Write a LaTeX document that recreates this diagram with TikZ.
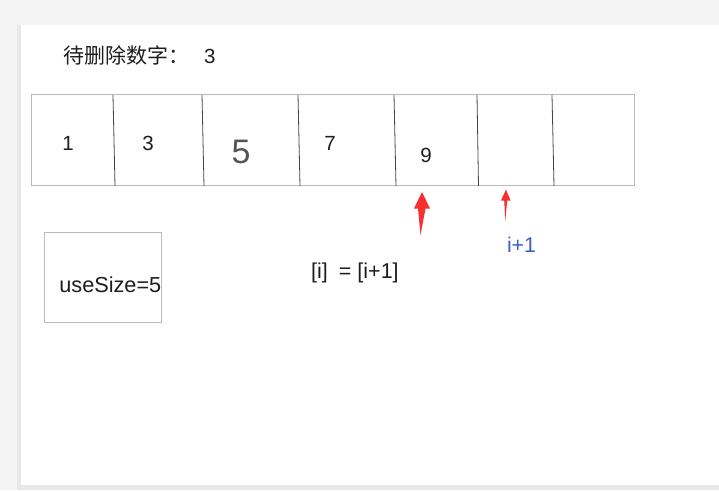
\documentclass[tikz,border=0pt]{standalone}
\usepackage{fontspec}
\setmainfont{Liberation Sans}
\newfontfamily\cjk{Noto Sans CJK SC}
\definecolor{bggray}{HTML}{F4F4F4}
\definecolor{edgegray}{HTML}{E8E8E8}
\definecolor{boxgray}{HTML}{BBBBBB}
\definecolor{divgray}{HTML}{444444}
\definecolor{txt}{HTML}{1E1E1E}
\definecolor{fivegray}{HTML}{555555}
\definecolor{arrred}{HTML}{F5302E}
\definecolor{idxblue}{HTML}{3D5FC4}
\tikzset{
  lbl/.style={inner sep=0pt, text=txt, font=\fontsize{20.5}{24}\selectfont},
  outline/.style={draw=boxgray, line width=1pt},
  divider/.style={draw=divgray, line width=0.8pt},
  redarrow/.style={fill=arrred, draw=none}
}
\begin{document}
\begin{tikzpicture}[x=1pt,y=-1pt]
\useasboundingbox (0,0) rectangle (719,490);
% background
\fill[bggray] (0,0) rectangle (719,490);
\fill[edgegray] (17,25) rectangle (21,490);
\fill[edgegray] (17,485) rectangle (719,490);
\fill[white] (21,25) rectangle (719,485);
% title
\node[lbl, anchor=west] (title) at (63,55) {{\cjk\fontsize{21}{24}\selectfont 待删除数字：}\hspace{15pt}3};
% array
\node[outline, minimum width=603pt, minimum height=91pt, inner sep=0pt, anchor=north west] (arr) at (31,94) {};
\draw[divider] (113,95) -- (115,186);
\draw[divider] (202,95) -- (204,186);
\draw[divider] (298,95) -- (300,186);
\draw[divider] (394,95) -- (396,186);
\draw[divider] (477,95) -- (478.5,186);
\draw[divider] (552,95) -- (554,186);
\node[lbl] (n1) at (68,143) {1};
\node[lbl] (n3) at (148,143.5) {3};
\node[lbl, text=fivegray, font=\fontsize{34}{38}\selectfont] (n5) at (241,152) {5};
\node[lbl] (n7) at (330,143) {7};
\node[lbl] (n9) at (426,155.5) {9};
% red arrows
\fill[redarrow] (422,192) -- (430,208.5) -- (425.5,208.5) -- (420.5,235) -- (418,208.5) -- (414,208.5) -- cycle;
\fill[redarrow] (506,189.5) -- (510.5,200.5) -- (507.2,200.5) -- (505.3,221) -- (504.2,200.5) -- (501,200.5) -- cycle;
\node[lbl, text=idxblue, font=\fontsize{21.3}{24}\selectfont] (ip1) at (521.5,245) {i+1};
% useSize box
\node[outline, minimum width=117pt, minimum height=90pt, inner sep=0pt, anchor=north west] (use) at (44,232) {};
\node[lbl, anchor=east, font=\fontsize{21.7}{24}\selectfont] (usetxt) at (161.5,285) {useSize=5};
% assignment
\node[lbl, anchor=west, font=\fontsize{21.5}{24}\selectfont] (assign) at (311,273) {[i]\hspace{11pt}= [i+1]};
\end{tikzpicture}
\end{document}
